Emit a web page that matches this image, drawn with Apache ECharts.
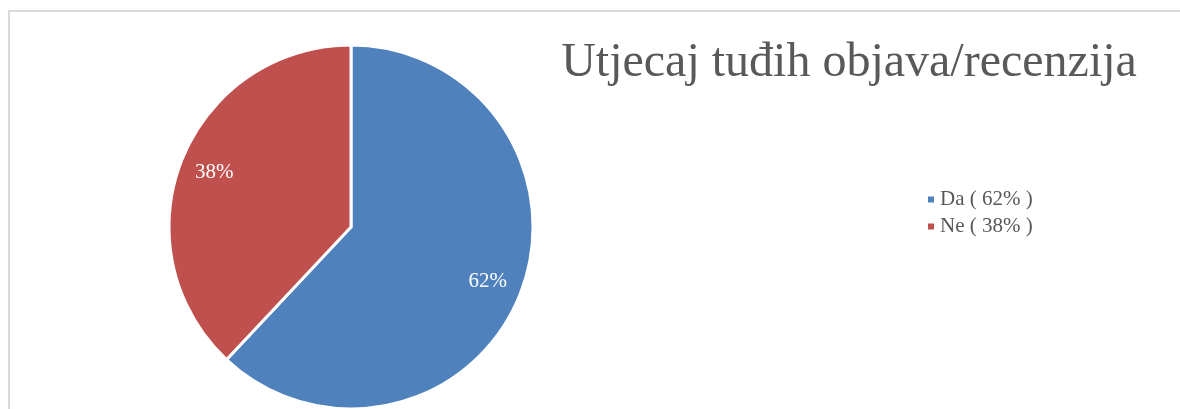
<!DOCTYPE html>
<html>
<head>
<meta charset="utf-8">
<script src="https://cdn.jsdelivr.net/npm/echarts@6/dist/echarts.min.js"></script>
<style>
  html, body { margin: 0; padding: 0; background: #fff; }
  #main { width: 1180px; height: 409px; }
</style>
</head>
<body>
<div id="main"></div>
<script>
var titleText = 'Utjecaj tuđih objava/recenzija';
var categories = ['Da', 'Ne'];
var values = [62, 38];
var colors = ['#4F81BD', '#C0504D'];

var chart = echarts.init(document.getElementById('main'));

var pieData = categories.map(function (name, i) {
  return { name: name + ' ( ' + values[i] + '% )', value: values[i], itemStyle: { color: colors[i] } };
});

var option = {
  backgroundColor: '#fff',
  animation: false,
  graphic: [{
    type: 'rect',
    shape: { x: 9, y: 11, width: 1200, height: 420 },
    style: { fill: 'none', stroke: '#d9d9d9', lineWidth: 2 },
    z: -1
  }],
  title: {
    text: titleText,
    left: 844,
    top: 34,
    textAlign: 'center',
    textStyle: {
      fontFamily: 'Liberation Serif',
      fontSize: 48,
      fontWeight: 'normal',
      color: '#595959'
    }
  },
  legend: {
    orient: 'vertical',
    left: 921,
    top: 184,
    itemWidth: 8,
    itemHeight: 8,
    itemGap: 6,
    icon: 'rect',
    textStyle: {
      fontFamily: 'Liberation Serif',
      fontSize: 21,
      color: '#595959'
    }
  },
  series: [{
    type: 'pie',
    center: [351, 227],
    radius: [0, 182],
    startAngle: 90,
    clockwise: true,
    data: pieData,
    label: { show: false },
    labelLine: { show: false },
    itemStyle: { borderColor: '#fff', borderWidth: 3 },
    emphasis: { disabled: true }
  }, {
    type: 'pie',
    center: [351, 227],
    radius: [106, 182],
    startAngle: 90,
    clockwise: true,
    silent: true,
    legendHoverLink: false,
    data: pieData.map(function (d) {
      return { name: d.name + ' ', value: d.value, itemStyle: { color: 'transparent' } };
    }),
    label: {
      show: true,
      position: 'inside',
      formatter: function (p) { return values[p.dataIndex] + '%'; },
      fontFamily: 'Liberation Serif',
      fontSize: 21,
      color: '#fff'
    },
    labelLine: { show: false },
    emphasis: { disabled: true }
  }]
};
option.legend.data = pieData.map(function (d) { return d.name; });
chart.setOption(option);
</script>
</body>
</html>
